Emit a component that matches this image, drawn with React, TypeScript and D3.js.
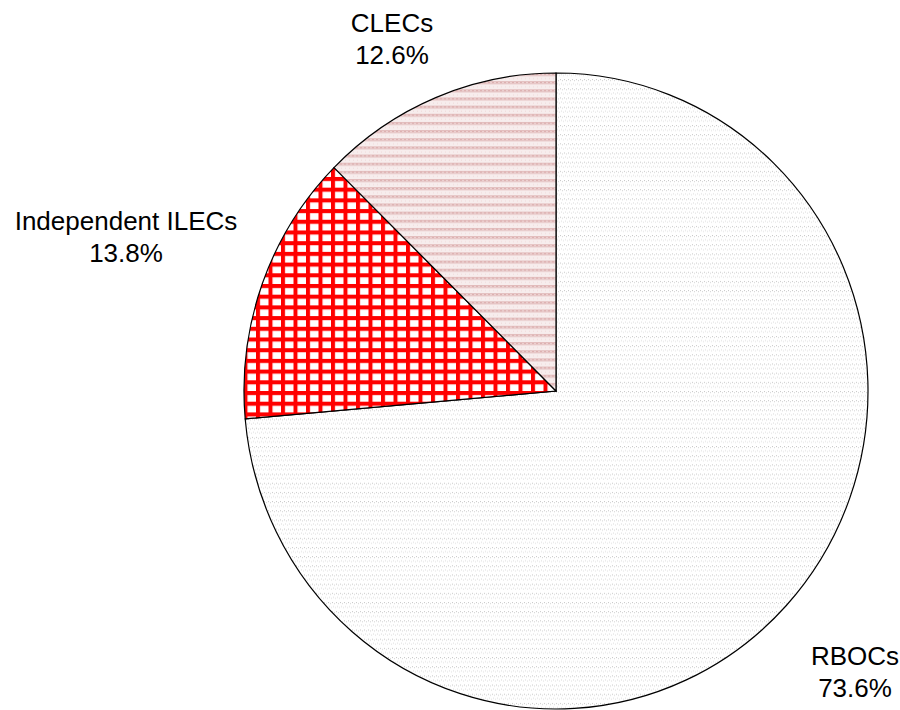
import React from "react";
import * as d3 from "d3";

const categories = ["RBOCs", "Independent ILECs", "CLECs"];
const shares = [73.6, 13.8, 12.6];
const patternIds = ["pRboc", "pIlec", "pClec"];
// label layout (text position, not data)
const labelPos: [number, number][] = [
  [855, 665],
  [126, 230],
  [392, 32],
];

const W = 900;
const H = 710;
const cx = 556;
const cy = 391;
const r = 312;
const sy = 318 / 312;

export default function App() {
  const pie = d3.pie<number>().sort(null).value((d) => d);
  const arcs = pie(shares);
  const arc = d3.arc<d3.PieArcDatum<number>>().innerRadius(0).outerRadius(r);
  return (
    <svg width={W} height={H} style={{ position: "absolute", left: 0, top: 0 }}>
      <defs>
        <pattern id="pRboc" width={4} height={9} patternUnits="userSpaceOnUse">
          <rect width={4} height={9} fill="#fff" />
          <rect x={0} y={0} width={1} height={1} fill="#c8c8c8" />
          <rect x={2} y={1} width={1} height={1} fill="#d4d4d4" />
          <rect x={1} y={4} width={1} height={1} fill="#dcdcdc" />
          <rect x={3} y={5} width={1} height={1} fill="#e0e0e0" />
        </pattern>
        <pattern id="pClec" width={4} height={8} patternUnits="userSpaceOnUse">
          <rect width={4} height={8} fill="#f7eded" />
          <rect x={0} y={0} width={4} height={1} fill="#e2bcbc" />
          <rect x={0} y={1} width={2} height={1} fill="#d9a9a9" />
          <rect x={2} y={1} width={2} height={1} fill="#ebcfcf" />
          <rect x={0} y={2} width={4} height={1} fill="#e2bcbc" />
          <rect x={1} y={5} width={1} height={1} fill="#efdada" />
        </pattern>
        <pattern id="pIlec" width={12.5} height={10.5} patternUnits="userSpaceOnUse">
          <rect width={12.5} height={10.5} fill="#ffffff" />
          <rect x={0} y={0} width={4} height={10.5} fill="#ff0000" />
          <rect x={0} y={0} width={12.5} height={4} fill="#ff0000" />
        </pattern>
      </defs>
      <g transform={`translate(${cx},${cy}) scale(1,${sy})`}>
        {arcs.map((a, i) => (
          <path
            key={categories[i]}
            d={arc(a) || ""}
            fill={`url(#${patternIds[i]})`}
            stroke="#000"
            strokeWidth={1.2}
            vectorEffect="non-scaling-stroke"
          />
        ))}
      </g>
      {arcs.map((a, i) => (
        <text
          key={"l" + i}
          x={labelPos[i][0]}
          y={labelPos[i][1]}
          textAnchor="middle"
          fontFamily="Liberation Sans, Arial, sans-serif"
          fontSize={26}
          fill="#000"
        >
          <tspan x={labelPos[i][0]}>{categories[i]}</tspan>
          <tspan x={labelPos[i][0]} dy={32}>
            {shares[i].toFixed(1)}%
          </tspan>
        </text>
      ))}
    </svg>
  );
}
